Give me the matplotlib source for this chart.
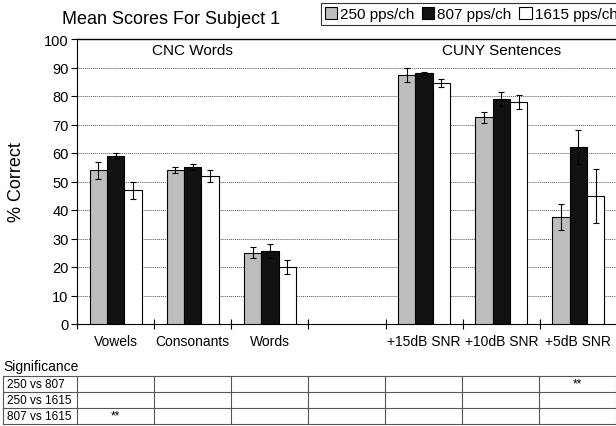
import numpy as np
import matplotlib
matplotlib.use("Agg")
import matplotlib.pyplot as plt

plt.rcParams['font.family'] = ['Liberation Sans', 'DejaVu Sans']

categories = ['Vowels', 'Consonants', 'Words', '', '+15dB SNR', '+10dB SNR', '+5dB SNR']
series = ['250 pps/ch', '807 pps/ch', '1615 pps/ch']
means_250 = [54, 54, 25, np.nan, 87.5, 72.5, 37.5]
means_807 = [59, 55, 25.5, np.nan, 88, 79, 62]
means_1615 = [47, 52, 20, np.nan, 84.5, 78, 45]
err_250 = [3, 1, 2, 0, 2.5, 2, 4.5]
err_807 = [1, 1, 2.5, 0, 0.5, 2.5, 6]
err_1615 = [3, 2, 2.5, 0, 1.5, 2.5, 9.5]

sig_rows = ['250 vs 807', '250 vs 1615', '807 vs 1615']
sig_marks = [
    ['', '', '', '', '', '', '**'],
    ['', '', '', '', '', '', ''],
    ['**', '', '', '', '', '', ''],
]

W, H = 616, 427
fig = plt.figure(figsize=(W / 100, H / 100), dpi=100)

# main axes, placed by pixel
ax = fig.add_axes([77 / W, 1 - 325 / H, 540 / W, 285 / H])

x = np.arange(len(categories))
bw = 0.225
colors = ['#bdbdbd', '#111111', 'white']
all_means = [means_250, means_807, means_1615]
all_errs = [err_250, err_807, err_1615]
for i in range(3):
    ax.bar(x + (i - 1) * bw, all_means[i], bw, yerr=all_errs[i],
           color=colors[i], edgecolor='black', linewidth=0.8,
           error_kw=dict(ecolor='black', elinewidth=0.8, capsize=2.5, capthick=0.8),
           label=series[i], zorder=3)

ax.set_xlim(-0.5, len(categories) - 0.5)
ax.set_ylim(0, 100)
ax.set_yticks(range(0, 101, 10))
ax.set_xticks(np.arange(-0.5, len(categories), 1.0))
ax.set_xticklabels([])
ax.tick_params(axis='x', direction='inout', length=7, width=0.8)
ax.tick_params(axis='y', direction='out', length=4, width=0.8, labelsize=10.5, pad=2)
for c, lab in zip(x, categories):
    ax.text(c, -3.5, lab, ha='center', va='top', fontsize=10)

ax.yaxis.grid(True, linestyle=(0, (1, 1)), color='#555555', linewidth=0.7, zorder=0)
ax.spines['right'].set_visible(False)
ax.spines['top'].set_linewidth(1.0)
ax.spines['left'].set_linewidth(0.8)
ax.spines['bottom'].set_linewidth(0.8)
ax.set_ylabel('% Correct', fontsize=13, labelpad=14)

ax.text(1.0, 96, 'CNC Words', ha='center', va='center', fontsize=11)
ax.text(5.0, 96, 'CUNY Sentences', ha='center', va='center', fontsize=11)

fig.text(62 / W, 1 - 20 / H, 'Mean Scores For Subject 1', ha='left', va='center', fontsize=13)
leg = fig.legend(loc='upper left', bbox_to_anchor=(321 / W, 1 - 4 / H), ncol=3,
                 fontsize=11, frameon=True, fancybox=False, edgecolor='black',
                 handlelength=0.8, handleheight=0.8, handletextpad=0.2,
                 columnspacing=0.5, borderpad=0.25, borderaxespad=0)
leg.get_frame().set_linewidth(0.8)

# significance table
fig.text(3 / W, 1 - 367 / H, 'Significance', ha='left', va='center', fontsize=10)
tax = fig.add_axes([3 / W, 1 - 425 / H, 613 / W, 48 / H])
tax.set_xlim(3, 616)
tax.set_ylim(3, 0)
tax.axis('off')
col_edges = [3] + [77 + 77 * k for k in range(len(categories) + 1)]
for k in range(4):
    tax.plot([3, 616], [k, k], color='#555555', lw=0.8, clip_on=False)
for e in col_edges:
    tax.plot([e, e], [0, 3], color='#555555', lw=0.8, clip_on=False)
for r, name in enumerate(sig_rows):
    tax.text(7, r + 0.5, name, ha='left', va='center', fontsize=8.5)
    for c, m in enumerate(sig_marks[r]):
        if m:
            tax.text(77 + 77 * c + 38.5, r + 0.45, m, ha='center', va='center', fontsize=8.5)

fig.savefig('out.png', dpi=100)
